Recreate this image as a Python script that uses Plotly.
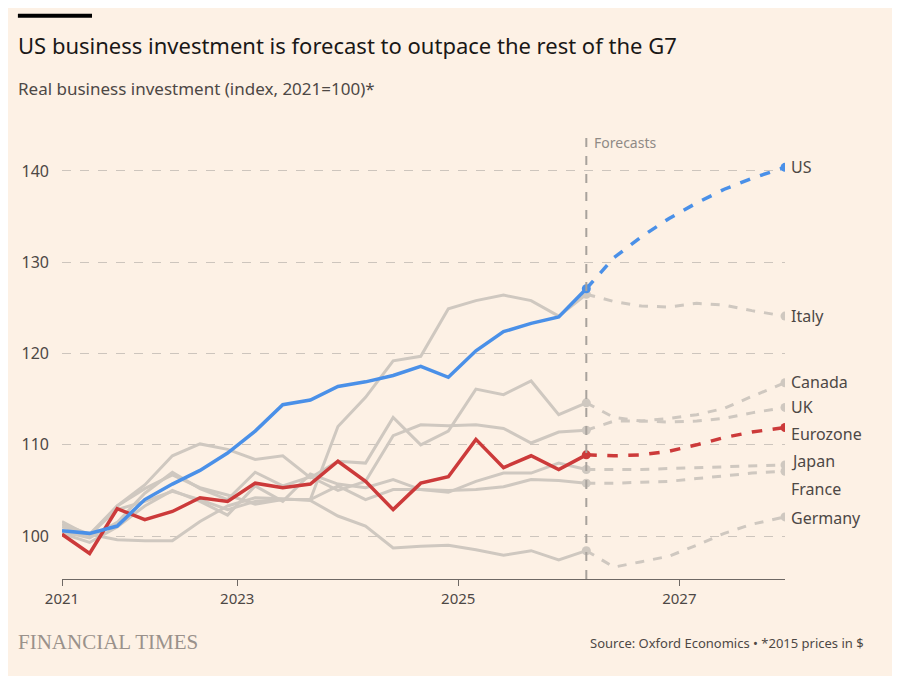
import plotly.graph_objects as go

# quarter index: 0 = 2021 Q1 ... 19 = latest actual; forecasts run to 26.2
hist_x = list(range(20))
fc_x = [19, 20, 21, 22, 23, 24, 25, 26.2]

us_hist = [100.6, 100.3, 101.1, 104.0, 105.7, 107.2, 109.1, 111.5, 114.4, 114.9,
           116.4, 116.9, 117.6, 118.6, 117.4, 120.3, 122.4, 123.3, 124.0, 127.1]
us_fc = [127.1, 130.5, 132.8, 134.8, 136.5, 138.0, 139.2, 140.4]

ez_hist = [100.2, 98.1, 103.0, 101.8, 102.7, 104.2, 103.8, 105.8, 105.3, 105.7,
           108.2, 106.0, 102.9, 105.8, 106.5, 110.6, 107.5, 108.8, 107.3, 108.9]
ez_fc = [108.9, 108.8, 108.9, 109.3, 110.0, 110.8, 111.4, 111.9]

grey_hist = {
    "Italy": [101.6, 100.0, 103.3, 105.2, 106.7, 105.3, 104.5, 103.5, 104.0, 104.0,
              112.0, 115.2, 119.2, 119.7, 124.9, 125.8, 126.4, 125.8, 124.1, 126.5],
    "Canada": [101.0, 100.2, 103.3, 105.6, 108.8, 110.1, 109.5, 108.4, 108.8, 106.4,
               108.2, 108.0, 113.0, 110.0, 111.5, 116.1, 115.5, 117.0, 113.3, 114.6],
    "UK": [100.5, 99.8, 101.5, 104.7, 107.0, 105.2, 104.0, 107.0, 105.5, 106.5,
           105.0, 106.0, 111.0, 112.2, 112.1, 112.2, 111.8, 110.2, 111.4, 111.6],
    "Japan": [100.3, 99.3, 101.0, 103.3, 105.0, 103.8, 102.3, 105.5, 103.8, 106.8,
              105.7, 105.3, 106.2, 105.1, 104.8, 106.0, 106.9, 106.9, 108.0, 107.3],
    "France": [101.3, 100.2, 102.9, 103.8, 104.9, 104.0, 102.9, 103.8, 104.0, 104.0,
               105.5, 104.0, 105.1, 105.1, 105.0, 105.1, 105.4, 106.2, 106.1, 105.8],
    "Germany": [100.2, 100.2, 99.6, 99.5, 99.5, 101.6, 103.3, 104.2, 104.1, 103.9,
                102.2, 101.1, 98.7, 98.9, 99.0, 98.5, 97.9, 98.4, 97.4, 98.4],
}
grey_fc = {
    "Italy": [126.5, 125.7, 125.2, 125.1, 125.5, 125.3, 124.7, 124.1],
    "Canada": [114.6, 113.0, 112.6, 112.9, 113.3, 114.0, 115.3, 116.8],
    "UK": [111.6, 112.6, 112.6, 112.5, 112.6, 112.9, 113.5, 114.1],
    "Japan": [107.3, 107.3, 107.3, 107.4, 107.5, 107.6, 107.7, 107.8],
    "France": [105.8, 105.8, 105.9, 106.0, 106.3, 106.6, 106.9, 107.1],
    "Germany": [98.4, 96.6, 97.2, 97.8, 99.0, 100.3, 101.3, 102.1],
}

# end labels: (text, y position of label)
labels = [("US", 140.4), ("Italy", 124.1), ("Canada", 116.9), ("UK", 114.1),
          ("Eurozone", 111.2), ("Japan", 108.2), ("France", 105.2), ("Germany", 102.0)]

tick_vals = [0, 6.35, 14.36, 22.37]
tick_text = ["2021", "2023", "2025", "2027"]

BG = "#FDF1E5"
GREY = "#CFC8C0"
BLUE = "#4A90E8"
RED = "#CC3A3A"
FONT = "Noto Sans"

fig = go.Figure()

for name in grey_hist:
    fig.add_trace(go.Scatter(x=hist_x, y=grey_hist[name], mode="lines",
                             line=dict(color=GREY, width=3), hoverinfo="skip"))
    fig.add_trace(go.Scatter(x=fc_x, y=grey_fc[name], mode="lines",
                             line=dict(color=GREY, width=3, dash="dash"), hoverinfo="skip"))
    fig.add_trace(go.Scatter(x=[fc_x[0], fc_x[-1]], y=[grey_fc[name][0], grey_fc[name][-1]],
                             mode="markers", marker=dict(color=GREY, size=9)))

for h, f, c in [(ez_hist, ez_fc, RED), (us_hist, us_fc, BLUE)]:
    fig.add_trace(go.Scatter(x=hist_x, y=h, mode="lines", line=dict(color=c, width=3.5)))
    fig.add_trace(go.Scatter(x=fc_x, y=f, mode="lines", line=dict(color=c, width=3.5, dash="dash")))
    fig.add_trace(go.Scatter(x=[fc_x[0], fc_x[-1]], y=[f[0], f[-1]], mode="markers",
                             marker=dict(color=c, size=9)))

for text, y in labels:
    fig.add_annotation(x=fc_x[-1], y=y, text=text, showarrow=False, xanchor="left",
                       xshift=4, font=dict(size=16, color="#4D4845", family=FONT))

fig.add_shape(type="line", x0=19, x1=19, y0=0, y1=1, yref="paper",
              line=dict(color="#A8A29C", width=2, dash="dash"))
fig.add_annotation(x=19, y=1, yref="paper", text="Forecasts", showarrow=False,
                   xanchor="left", yanchor="top", xshift=6, yshift=-2,
                   font=dict(size=14, color="#8F8A86", family=FONT))

fig.add_shape(type="rect", xref="paper", yref="paper", x0=-0.061, x1=0.0415,
              y0=1.256, y1=1.247, fillcolor="#000000", line_width=0)
fig.add_annotation(xref="paper", yref="paper", x=-0.063, y=1.225,
                   text="US business investment is forecast to outpace the rest of the G7",
                   showarrow=False, xanchor="left", yanchor="top",
                   font=dict(size=22, color="#1A1817", family=FONT))
fig.add_annotation(xref="paper", yref="paper", x=-0.063, y=1.12,
                   text="Real business investment (index, 2021=100)*",
                   showarrow=False, xanchor="left", yanchor="top",
                   font=dict(size=17, color="#4D4845", family=FONT))
fig.add_annotation(xref="paper", yref="paper", x=-0.063, y=-0.108, text="FINANCIAL TIMES",
                   showarrow=False, xanchor="left", yanchor="top",
                   font=dict(size=21, color="#9A918B", family="Liberation Serif"))
fig.add_annotation(xref="paper", yref="paper", x=1.112, y=-0.118,
                   text="Source: Oxford Economics • *2015 prices in $",
                   showarrow=False, xanchor="right", yanchor="top",
                   font=dict(size=13, color="#4D4845", family=FONT))

fig.update_layout(
    width=900, height=676, paper_bgcolor=BG, plot_bgcolor=BG, showlegend=False,
    margin=dict(l=54, r=123, t=121, b=105),
    font=dict(family=FONT, color="#4D4845"),
)
fig.update_xaxes(range=[0, 26.2], tickvals=tick_vals, ticktext=tick_text, showgrid=False,
                 showline=True, linecolor="#6E6864", linewidth=1, ticks="outside",
                 ticklen=6, tickcolor="#6E6864", tickfont=dict(size=15), zeroline=False)
fig.update_yaxes(range=[95.3, 144.6], tickvals=[100, 110, 120, 130, 140], showgrid=True,
                 gridcolor="#CDC5BD", griddash="dash", gridwidth=1, zeroline=False,
                 tickfont=dict(size=16), ticklabelstandoff=12)

fig.write_html("out.html")
